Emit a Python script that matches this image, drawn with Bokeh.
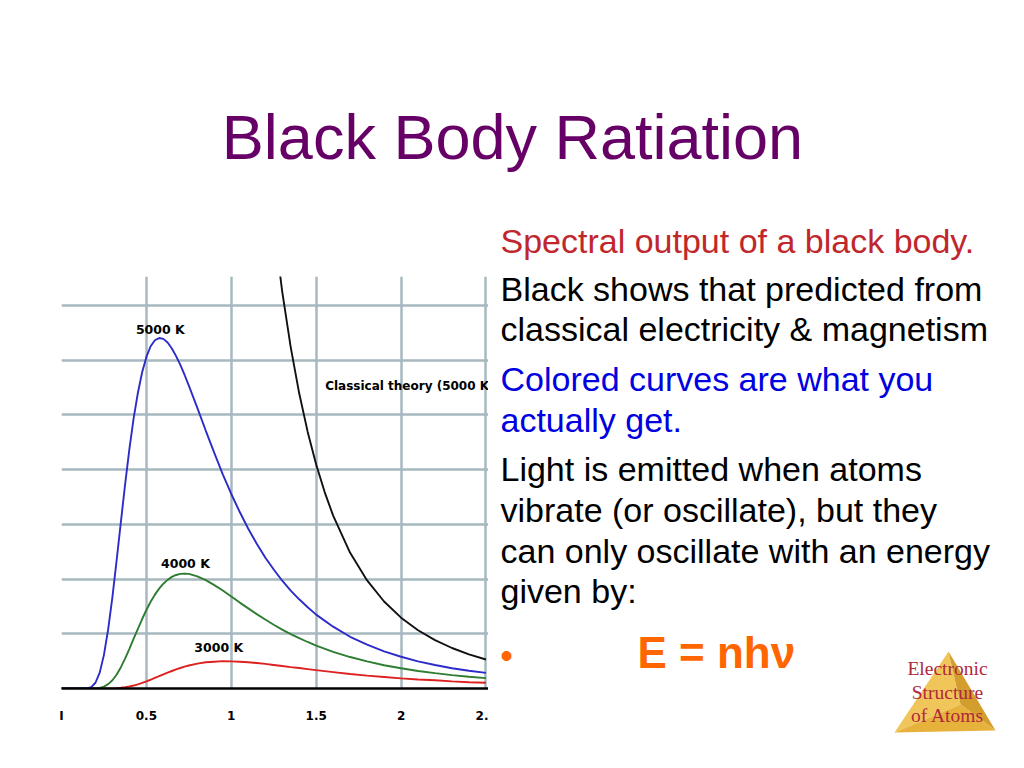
from bokeh.plotting import figure
from bokeh.layouts import column, row
from bokeh.models import Range1d, FixedTicker, ColumnDataSource
from bokeh.core.properties import value
from bokeh.embed import file_html
from bokeh.resources import INLINE

# ---------------- data ----------------
# wavelength in micrometres
wavelength = [0.0, 0.1, 0.15, 0.175, 0.2, 0.225, 0.25, 0.275, 0.3, 0.325,
              0.35, 0.375, 0.4, 0.425, 0.45, 0.475, 0.5, 0.525, 0.55, 0.575,
              0.6, 0.625, 0.65, 0.675, 0.7, 0.725, 0.75, 0.8, 0.85, 0.9,
              0.95, 1.0, 1.05, 1.1, 1.15, 1.2, 1.25, 1.3, 1.35, 1.4,
              1.45, 1.5, 1.6, 1.7, 1.8, 1.9, 2.0, 2.1, 2.2, 2.3,
              2.4, 2.5]
# spectral radiance (kW / sr / m^2 / nm)
radiance_5000 = [0, 0, 0.007, 0.053, 0.21, 0.58, 1.23, 2.17, 3.35, 4.70,
                 6.10, 7.48, 8.76, 9.88, 10.81, 11.56, 12.12, 12.51, 12.73, 12.81,
                 12.78, 12.65, 12.43, 12.15, 11.83, 11.46, 11.07, 10.26, 9.42, 8.61,
                 7.83, 7.11, 6.45, 5.84, 5.29, 4.79, 4.35, 3.94, 3.58, 3.26,
                 2.97, 2.70, 2.26, 1.89, 1.60, 1.36, 1.16, 0.99, 0.86, 0.74,
                 0.65, 0.57]
radiance_4000 = [0, 0, 0, 0, 0.006, 0.023, 0.07, 0.16, 0.30, 0.51,
                 0.78, 1.10, 1.45, 1.82, 2.18, 2.54, 2.87, 3.17, 3.43, 3.65,
                 3.83, 3.97, 4.08, 4.15, 4.19, 4.20, 4.19, 4.10, 3.96, 3.78,
                 3.58, 3.36, 3.14, 2.93, 2.72, 2.52, 2.33, 2.15, 1.99, 1.84,
                 1.70, 1.57, 1.34, 1.15, 0.99, 0.85, 0.74, 0.64, 0.56, 0.49,
                 0.43, 0.38]
radiance_3000 = [0, 0, 0, 0, 0, 0, 0.001, 0.002, 0.006, 0.013,
                 0.026, 0.045, 0.072, 0.108, 0.152, 0.203, 0.26, 0.32, 0.39, 0.45,
                 0.52, 0.58, 0.64, 0.70, 0.75, 0.80, 0.84, 0.91, 0.96, 0.98,
                 1.00, 0.99, 0.98, 0.96, 0.93, 0.90, 0.86, 0.82, 0.78, 0.75,
                 0.71, 0.67, 0.60, 0.53, 0.47, 0.42, 0.37, 0.33, 0.30, 0.26,
                 0.23, 0.21]
classical_wavelength = [1.25, 1.3, 1.35, 1.4, 1.45, 1.5, 1.55, 1.6, 1.7, 1.8, 1.9, 2.0,
                        2.1, 2.2, 2.3, 2.4, 2.5]
classical_5000 = [16.98, 14.51, 12.48, 10.79, 9.38, 8.19, 7.18, 6.32, 4.96, 3.95, 3.18, 2.59,
                  2.13, 1.77, 1.48, 1.25, 1.06]

x_ticks = [0, 0.5, 1, 1.5, 2, 2.5]
x_tick_labels = ["I", "0.5", "1", "1.5", "2", "2."]
y_grid = [2, 4, 6, 8, 10, 12, 14]

curve_labels = ["5000 K", "4000 K", "3000 K"]
curve_label_x = [0.582, 0.73, 0.926]
curve_label_y = [13.13, 4.57, 1.50]
classical_label = ["Classical theory (5000 K"]
classical_label_x = [1.553]
classical_label_y = [11.04]

title_text = "Black Body Ratiation"
body_text = ["Spectral output of a black body.",
             "Black shows that predicted from",
             "classical electricity & magnetism",
             "Colored curves are what you",
             "actually get.",
             "Light is emitted when atoms",
             "vibrate (or oscillate), but they",
             "can only oscillate with an energy",
             "given by:"]
body_colors = ["#c0272d", "black", "black", "#0000e0", "#0000e0",
               "black", "black", "black", "black"]
formula_text = "E = nh\u03bd"
logo_text = ["Electronic", "Structure", "of Atoms"]

# ---------------- layout (page pixels) ----------------
TOTAL_W = 1008
TITLE_H = 200
ROW_H = 552
CHART_W = 488


def no_align(f):
    if "frame_align" in f.properties():
        f.frame_align = False
    return f


def blank(width, height, x0, x1, y_top, y_bottom):
    f = figure(width=width, height=height, x_range=Range1d(x0, x1),
               y_range=Range1d(y_bottom, y_top), output_backend="svg",
               toolbar_location=None, x_axis_location=None, y_axis_location=None,
               min_border=0)
    f.grid.visible = False
    f.outline_line_color = None
    return no_align(f)


# title
title_fig = blank(TOTAL_W, TITLE_H, 0, TOTAL_W, 0, TITLE_H)
title_fig.text(x=[512], y=[136], text=[title_text], text_font=value("Liberation Sans"),
               text_font_size="63px", text_color="#660066", text_align="center",
               text_baseline="middle")

# chart
p = figure(width=CHART_W, height=ROW_H, x_range=Range1d(0, 2.515), y_range=Range1d(0, 15.06),
           output_backend="svg", toolbar_location=None,
           min_border_left=61, min_border_right=0, min_border_top=76, min_border_bottom=64)
no_align(p)
p.outline_line_color = None
p.yaxis.visible = False
p.xaxis.ticker = FixedTicker(ticks=x_ticks)
p.xaxis.major_label_overrides = {t: l for t, l in zip(x_ticks, x_tick_labels)}
p.xaxis.major_tick_line_color = None
p.xaxis.minor_tick_line_color = None
p.xaxis.major_tick_out = 0
p.xaxis.axis_line_color = "black"
p.xaxis.axis_line_width = 2.5
p.xaxis.major_label_text_font = "DejaVu Sans"
p.xaxis.major_label_text_font_style = "bold"
p.xaxis.major_label_text_font_size = "12px"
p.xaxis.major_label_text_color = "black"
p.xaxis.major_label_standoff = 20

grid_color = "#a7b8bf"
p.xgrid.ticker = FixedTicker(ticks=[t for t in x_ticks if t > 0])
p.ygrid.ticker = FixedTicker(ticks=y_grid)
for g in (p.xgrid, p.ygrid):
    g.grid_line_color = grid_color
    g.grid_line_width = 2.5

src = ColumnDataSource(dict(x=wavelength, t5=radiance_5000, t4=radiance_4000, t3=radiance_3000))
p.line("x", "t3", source=src, line_color="#dd2020", line_width=1.9)
p.line("x", "t4", source=src, line_color="#2e7d32", line_width=1.9)
p.line("x", "t5", source=src, line_color="#2c2cc8", line_width=1.9)
p.line(classical_wavelength, classical_5000, line_color="#111111", line_width=1.9)

p.text(x=curve_label_x, y=curve_label_y, text=curve_labels,
       text_font=value("DejaVu Sans"), text_font_style="bold", text_font_size="12.5px",
       text_align="center", text_baseline="middle", text_color="black")
p.text(x=classical_label_x, y=classical_label_y, text=classical_label,
       text_font=value("DejaVu Sans"), text_font_style="bold", text_font_size="12px",
       text_align="left", text_baseline="middle", text_color="black")

# right-hand text panel (coordinates are page pixels)
side = blank(TOTAL_W - CHART_W, ROW_H, CHART_W, TOTAL_W, TITLE_H, TITLE_H + ROW_H)
body_src = ColumnDataSource(dict(x=[500] * len(body_text),
                                 y=[240, 288, 328, 378, 419, 468, 509, 550, 590],
                                 text=body_text, color=body_colors))
side.text(x="x", y="y", text="text", text_color="color", source=body_src,
          text_font=value("Liberation Sans"), text_font_size="34px",
          text_baseline="middle", text_align="left")
side.text(x=[506], y=[655], text=["\u2022"], text_font=value("Liberation Sans"),
          text_font_size="36px", text_color="#ff6600", text_baseline="middle",
          text_align="center")
side.text(x=[637], y=[652], text=[formula_text], text_font=value("Liberation Sans"),
          text_font_size="44px", text_font_style="bold", text_color="#ff6600",
          text_baseline="middle")

# logo pyramid
side.patch([948, 894, 960], [651, 732, 704], fill_color="#f0c65a", line_color=None)
side.patch([948, 995, 960], [651, 730, 704], fill_color="#d49e2e", line_color=None)
side.patch([894, 995, 960], [732, 730, 704], fill_color="#e6b23c", line_color=None)
side.text(x=[947, 947, 947], y=[668, 692, 715], text=logo_text,
          text_font=value("Liberation Serif"), text_font_size="19.5px",
          text_color="#b0283c", text_align="center", text_baseline="middle")

layout = column(title_fig, row(p, side))
open("out.html", "w").write(file_html(layout, INLINE))
